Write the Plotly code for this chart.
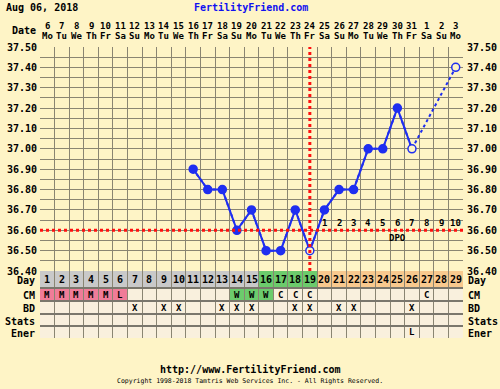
import plotly.graph_objects as go

# ---------------- data ----------------
cycle_days = list(range(1, 30))
date_nums = [str(n) for n in range(6, 32)] + ["1", "2", "3"]
weekdays = ["Mo", "Tu", "We", "Th", "Fr", "Sa", "Su"] * 4 + ["Mo"]
temps = [None] * 10 + [36.90, 36.80, 36.80, 36.60, 36.70, 36.50, 36.50, 36.70,
                       36.50, 36.70, 36.80, 36.80, 37.00, 37.00, 37.20, 37.00,
                       None, None, 37.40]
open_days = [19, 26, 29]
coverline = 36.60
ovulation_day = 19
fertile_days = [16, 17, 18, 19]
cm = ["M", "M", "M", "M", "M", "L", "", "", "", "", "", "", "", "W", "W", "W",
      "C", "C", "C", "", "", "", "", "", "", "", "C", "", ""]
bd_days = [7, 9, 10, 13, 14, 15, 18, 19, 21, 22, 26]
ener = {26: "L"}
stats = {}
chart_date = "Aug 06, 2018"
site = "FertilityFriend.com"
footer_url = "http://www.FertilityFriend.com"
copyright_txt = "Copyright 1998-2018 Tamtris Web Services Inc. - All Rights Reserved."

# ---------------- style ----------------
BG = "#FEF4C6"
CELL = "#F9F0DD"
GRID = "#8A8572"
TGRID = "#7A776C"
BLUE = "#1F2EF0"
RED = "#FF1010"
GRAY = "#C9C9C9"
GREEN = "#6CCB6C"
ORANGE = "#F8C98E"
PINK = "#F07C98"
FONT = "DejaVu Sans Mono"

W, H = 500, 389
L_PX, R_PX, T_PX, B_PX = 40, 463, 47, 338   # pixels of the grid
plot_h = B_PX - T_PX
table_h = 67
D = table_h / plot_h

# table rows (name, height in px) from top to bottom
rows = [("Day", 17), ("CM", 13), ("BD", 13), ("Stats", 12), ("Ener", 12)]
bounds = {}
top = table_h
for name, h in rows:
    bounds[name] = (top - h, top)
    top -= h

def py(pix):
    return (B_PX - pix) / plot_h

def px(pix):
    return (pix - L_PX) / (R_PX - L_PX)

fig = go.Figure()

# dashed connector over gaps
fig.add_trace(go.Scatter(
    x=cycle_days, y=temps, mode="lines", connectgaps=True,
    line=dict(color=BLUE, width=2, dash="3px,3px"),
    hoverinfo="skip", showlegend=False))
# solid temperature line
fig.add_trace(go.Scatter(
    x=cycle_days, y=temps, mode="lines+markers", connectgaps=False,
    line=dict(color=BLUE, width=2),
    marker=dict(size=8, color=[BG if d in open_days else BLUE for d in cycle_days],
                line=dict(color=BLUE, width=1.5)),
    hoverinfo="skip", showlegend=False))
# invisible trace for right axis
fig.add_trace(go.Scatter(x=[15], y=[37.0], yaxis="y3", mode="markers",
                         marker=dict(opacity=0), hoverinfo="skip", showlegend=False))
# invisible trace for table subplot
fig.add_trace(go.Scatter(x=[15], y=[10], yaxis="y2", mode="markers",
                         marker=dict(opacity=0), hoverinfo="skip", showlegend=False))

shapes = []
annos = []
bold = dict(family=FONT, size=9, color="black", weight="bold")

def ann(**kw):
    kw.setdefault("showarrow", False)
    kw.setdefault("yanchor", "middle")
    kw.setdefault("xanchor", "center")
    annos.append(kw)

# table cells
for i, d in enumerate(cycle_days):
    # Day row
    if d in fertile_days:
        c = GREEN
    elif d > ovulation_day:
        c = ORANGE
    else:
        c = GRAY
    y0, y1 = bounds["Day"]
    shapes.append(dict(type="rect", xref="x", yref="y2", x0=d - 0.5, x1=d + 0.5,
                       y0=y0, y1=y1, fillcolor=c, line=dict(width=0), layer="below"))
    ann(x=d, y=(y0 + y1) / 2, xref="x", yref="y2", text=str(d), font=dict(bold, size=10))
    # CM row
    v = cm[i]
    c = PINK if v in ("M", "L") else GREEN if v == "W" else CELL
    y0, y1 = bounds["CM"]
    shapes.append(dict(type="rect", xref="x", yref="y2", x0=d - 0.5, x1=d + 0.5,
                       y0=y0, y1=y1, fillcolor=c, line=dict(width=0), layer="below"))
    if v:
        ann(x=d, y=(y0 + y1) / 2, xref="x", yref="y2", text=v, font=bold)
    # BD, Stats, Ener
    for rn, content in (("BD", {k: "X" for k in bd_days}), ("Stats", stats), ("Ener", ener)):
        y0, y1 = bounds[rn]
        shapes.append(dict(type="rect", xref="x", yref="y2", x0=d - 0.5, x1=d + 0.5,
                           y0=y0, y1=y1, fillcolor=CELL, line=dict(width=0), layer="below"))
        if d in content:
            ann(x=d, y=(y0 + y1) / 2, xref="x", yref="y2", text=content[d], font=bold)

# row labels both sides
for name, _ in rows:
    y0, y1 = bounds[name]
    ann(x=0, y=(y0 + y1) / 2, xref="paper", yref="y2", text=name, xanchor="right",
        xshift=-3, yshift=-1, font=dict(bold, size=10))
    ann(x=1, y=(y0 + y1) / 2, xref="paper", yref="y2", text=name, xanchor="left",
        xshift=3, yshift=-1, font=dict(bold, size=10))

# header: dates and weekdays
for i, d in enumerate(cycle_days):
    ann(x=d, y=py(26), xref="x", yref="paper", text=date_nums[i], font=bold)
    ann(x=d, y=py(36), xref="x", yref="paper", text=weekdays[i], font=bold)
ann(x=px(38), y=py(31), xref="paper", yref="paper", text="Date", xanchor="right",
    font=dict(bold, size=10))

# DPO labels
for d in cycle_days:
    if d > ovulation_day:
        ann(x=d, y=coverline, xref="x", yref="y", text=str(d - ovulation_day),
            yanchor="bottom", yshift=0, font=bold)
ann(x=ovulation_day + 6, y=coverline, xref="x", yref="y", text="DPO",
    yanchor="top", yshift=-1, font=bold)

# titles and footer
ann(x=px(4), y=py(7), xref="paper", yref="paper", text=chart_date, xanchor="left",
    font=dict(bold, size=10))
ann(x=px(251), y=py(7), xref="paper", yref="paper", text=site,
    font=dict(bold, size=10, color="#1010F0"))
ann(x=px(250), y=py(369), xref="paper", yref="paper", text=footer_url,
    font=dict(bold, size=10))
ann(x=px(250), y=py(381), xref="paper", yref="paper", text=copyright_txt,
    font=dict(family=FONT, size=6.5, color="black"))

# red dotted lines
shapes.append(dict(type="line", xref="x", yref="y", x0=0.5, x1=29.5, y0=coverline, y1=coverline,
                   line=dict(color=RED, width=3, dash="dot"), layer="above"))
shapes.append(dict(type="line", xref="x", yref="y", x0=ovulation_day, x1=ovulation_day,
                   y0=36.40, y1=37.50, line=dict(color=RED, width=3, dash="dot"), layer="above"))

tickfont = dict(family=FONT, size=10, color="black", weight="bold")

fig.update_layout(
    width=W, height=H,
    margin=dict(l=L_PX, r=W - R_PX, t=T_PX, b=H - B_PX, pad=0, autoexpand=False),
    paper_bgcolor=BG, plot_bgcolor=BG,
    showlegend=False,
    shapes=shapes, annotations=annos,
    xaxis=dict(range=[0.5, 29.5], tickvals=[d - 0.5 for d in cycle_days] + [29.5],
               showticklabels=False, ticks="", showgrid=True, gridcolor=GRID, gridwidth=1,
               zeroline=False, showline=False, anchor="y2", fixedrange=True, automargin=False),
    yaxis=dict(domain=[D, 1], range=[36.40, 37.50], tick0=36.40, dtick=0.1, tickformat=".2f",
               showgrid=True, gridcolor=GRID, gridwidth=1, zeroline=False, showline=False,
               ticks="", tickfont=tickfont, ticklabelstandoff=2, anchor="x", automargin=False,
               fixedrange=True,
               minor=dict(dtick=0.05, tick0=36.40, showgrid=True, gridcolor=GRID, gridwidth=1)),
    yaxis3=dict(overlaying="y", side="right", matches="y", range=[36.40, 37.50], tick0=36.40,
                dtick=0.1, tickformat=".2f", showgrid=False, zeroline=False, ticks="",
                tickfont=tickfont, ticklabelstandoff=3, anchor="x", automargin=False),
    yaxis2=dict(domain=[0, D], range=[0, table_h],
                tickvals=sorted({b for v in bounds.values() for b in v}),
                showticklabels=False, ticks="", showgrid=True, gridcolor=TGRID, gridwidth=1.5,
                zeroline=False, showline=False, anchor="x", automargin=False, fixedrange=True),
)

# page body default margin would offset the chart; remove it
fig.write_html("out.html", config={"displayModeBar": False, "staticPlot": True},
               post_script="document.body.style.margin='0';"
                           "document.body.style.background='" + BG + "';")
